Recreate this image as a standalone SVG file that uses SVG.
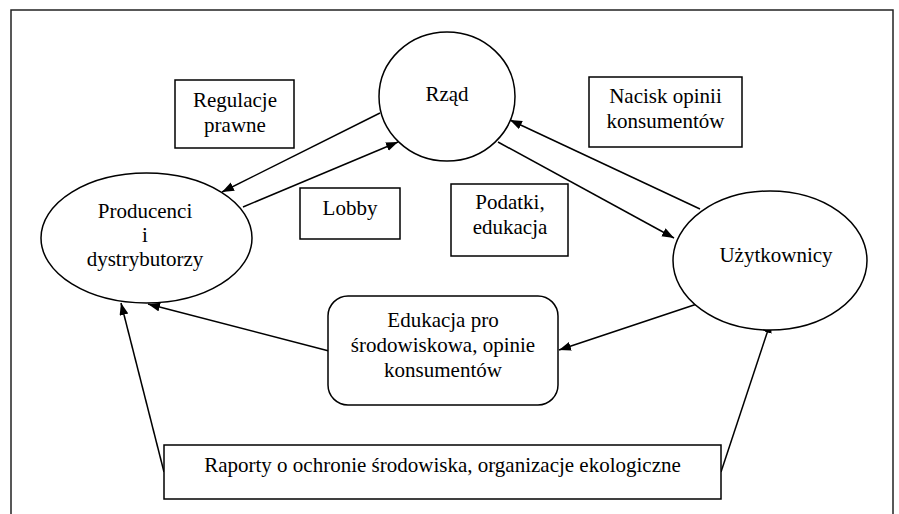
<svg xmlns="http://www.w3.org/2000/svg" width="899" height="514" viewBox="0 0 899 514">
<style>
.s{fill:#fff;stroke:#000;stroke-width:1.5}
.t{font-family:"Liberation Serif","Times New Roman",serif;font-size:21px;fill:#000;text-anchor:middle}
.c{stroke:#000;stroke-width:1.5;fill:none;marker-end:url(#ah)}
</style>
<defs>
<marker id="ah" markerUnits="userSpaceOnUse" markerWidth="13" markerHeight="10" refX="12" refY="4.5" orient="auto">
<path d="M0,0 L12,4.5 L0,9 z" fill="#000"/>
</marker>
</defs>
<rect x="11" y="10" width="882" height="520" fill="#fff" stroke="#222" stroke-width="1.5"/>
<g id="connectors">
<line class="c" x1="380" y1="113" x2="222" y2="192"/>
<line class="c" x1="243" y1="207" x2="398" y2="142"/>
<line class="c" x1="498" y1="142" x2="674" y2="238"/>
<line class="c" x1="700" y1="209" x2="510" y2="120"/>
<line class="c" x1="700" y1="303" x2="559" y2="350"/>
<line class="c" x1="329" y1="351" x2="148" y2="304"/>
<line class="c" x1="164" y1="472" x2="121" y2="303"/>
<line class="c" x1="721" y1="472" x2="771" y2="321"/>
</g>
<g id="regulacje">
<rect class="s" x="175" y="80" width="119" height="68"/>
<text class="t" x="235" y="107">Regulacje</text>
<text class="t" x="235" y="132">prawne</text>
</g>
<g id="rzad">
<ellipse class="s" cx="447" cy="96.5" rx="68" ry="64.5"/>
<text class="t" x="447" y="101">Rząd</text>
</g>
<g id="nacisk">
<rect class="s" x="589" y="77" width="153" height="70"/>
<text class="t" x="665.5" y="103">Nacisk opinii</text>
<text class="t" x="665.5" y="128">konsumentów</text>
</g>
<g id="producenci">
<ellipse class="s" cx="146.5" cy="238" rx="105.5" ry="65"/>
<text class="t" x="145" y="218">Producenci</text>
<text class="t" x="145" y="242">i</text>
<text class="t" x="145" y="266">dystrybutorzy</text>
</g>
<g id="lobby">
<rect class="s" x="300" y="188" width="100" height="51"/>
<text class="t" x="350" y="215">Lobby</text>
</g>
<g id="podatki">
<rect class="s" x="451" y="184" width="117" height="72"/>
<text class="t" x="510" y="209">Podatki,</text>
<text class="t" x="510" y="234">edukacja</text>
</g>
<g id="uzytkownicy">
<ellipse class="s" cx="770" cy="260.5" rx="97" ry="69.5"/>
<text class="t" x="776" y="262">Użytkownicy</text>
</g>
<g id="edukacja">
<rect class="s" x="328" y="296" width="230" height="109" rx="20" ry="20"/>
<text class="t" x="443" y="327">Edukacja pro</text>
<text class="t" x="443" y="352">środowiskowa, opinie</text>
<text class="t" x="443" y="377">konsumentów</text>
</g>
<g id="raporty">
<rect class="s" x="164" y="445" width="557" height="54"/>
<text class="t" x="442.5" y="472">Raporty o ochronie środowiska, organizacje ekologiczne</text>
</g>
</svg>
